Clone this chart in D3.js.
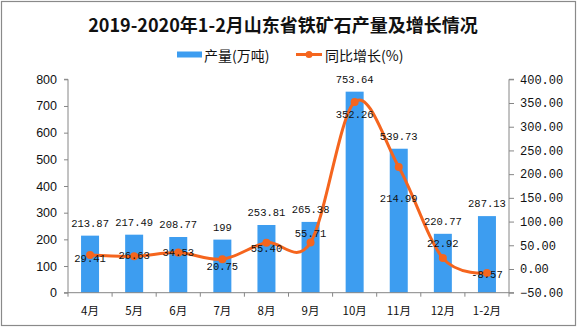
<!DOCTYPE html>
<html>
<head>
<meta charset="utf-8">
<script src="https://cdn.jsdelivr.net/npm/d3@7"></script>
<style>
  html, body { margin: 0; padding: 0; background: #fff; }
  svg { display: block; }
</style>
</head>
<body>
<svg id="chart" width="577" height="327"></svg>
<script>
const title = "2019-2020年1-2月山东省铁矿石产量及增长情况";
const categories = ["4月", "5月", "6月", "7月", "8月", "9月", "10月", "11月", "12月", "1-2月"];
const output = [213.87, 217.49, 208.77, 199, 253.81, 265.38, 753.64, 539.73, 220.77, 287.13];
const outputLabels = ["213.87", "217.49", "208.77", "199", "253.81", "265.38", "753.64", "539.73", "220.77", "287.13"];
const growth = [29.41, 26.63, 34.53, 20.75, 55.40, 55.71, 352.26, 214.99, 22.92, -8.57];
const growthLabels = ["29.41", "26.63", "34.53", "20.75", "55.40", "55.71", "352.26", "214.99", "22.92", "-8.57"];
const leftTicks = [0, 100, 200, 300, 400, 500, 600, 700, 800];
const rightTicks = [-50, 0, 50, 100, 150, 200, 250, 300, 350, 400];
const seriesNames = ["产量(万吨)", "同比增长(%)"];
// vertical offset of each growth label relative to its point (px)
const growthLabelShift = [4, 0, 0, 8, 6, -9, 13, 32, -14, 2];

(function () {
const barColor = "#3d9df0";
const lineColor = "#f5651e";
const axisColor = "#868686";

const svg = d3.select("#chart");

// frame
svg.append("rect").attr("x", 1.5).attr("y", 1.5).attr("width", 574).attr("height", 324)
  .attr("fill", "none").attr("stroke", "#8a8a8a").attr("stroke-width", 1.2);

const pLeft = 68, pRight = 509, pTop = 79.3, pBottom = 292.7;

const x = d3.scaleBand().domain(categories).range([pLeft, pRight]).paddingInner(0).paddingOuter(0);
const yL = d3.scaleLinear().domain([0, 800]).range([pBottom, pTop]);
const yR = d3.scaleLinear().domain([-50, 400]).range([pBottom, pTop]);
const cx = i => x(categories[i]) + x.bandwidth() / 2;

// title
svg.append("text").attr("x", 283).attr("y", 24).attr("text-anchor", "middle")
  .attr("dominant-baseline", "central")
  .style("font-family", "'Noto Sans CJK SC', sans-serif").style("font-weight", "bold")
  .style("font-size", "18px").attr("fill", "#111").text(title);

// legend
const lg = svg.append("g").style("font-family", "'Noto Sans CJK SC', sans-serif").style("font-size", "14px");
lg.append("rect").attr("x", 177).attr("y", 51.5).attr("width", 25).attr("height", 6).attr("fill", barColor);
lg.append("text").attr("x", 204).attr("y", 54.5).attr("dominant-baseline", "central").attr("fill", "#111").text(seriesNames[0]);
lg.append("line").attr("x1", 296).attr("x2", 322).attr("y1", 54.5).attr("y2", 54.5)
  .attr("stroke", lineColor).attr("stroke-width", 3);
lg.append("circle").attr("cx", 309).attr("cy", 54.5).attr("r", 3.5).attr("fill", lineColor);
lg.append("text").attr("x", 325).attr("y", 54.5).attr("dominant-baseline", "central").attr("fill", "#111").text(seriesNames[1]);

// bars
const barW = 18;
svg.append("g").selectAll("rect").data(output).join("rect")
  .attr("x", (d, i) => cx(i) - barW / 2)
  .attr("width", barW)
  .attr("y", d => yL(d))
  .attr("height", d => yL(0) - yL(d))
  .attr("fill", barColor);

// left axis
const axL = svg.append("g").attr("transform", `translate(${pLeft},0)`)
  .call(d3.axisLeft(yL).tickValues(leftTicks).tickSize(4).tickPadding(7).tickFormat(d3.format("d")));
axL.select(".domain").attr("stroke", axisColor).attr("d", `M-4,${pBottom}H0V${pTop}H-4`);
axL.selectAll(".tick line").attr("stroke", axisColor);
axL.selectAll(".tick text").style("font-family", "'Liberation Sans', Arial, sans-serif").style("font-size", "12.5px").attr("fill", "#111");

// right axis
const axR = svg.append("g").attr("transform", `translate(${pRight},0)`)
  .call(d3.axisRight(yR).tickValues(rightTicks).tickSize(5).tickPadding(6).tickFormat(d3.format(".2f")));
axR.select(".domain").attr("stroke", axisColor).attr("d", `M5,${pBottom}H0V${pTop}H5`);
axR.selectAll(".tick line").attr("stroke", axisColor);
axR.selectAll(".tick text").style("font-family", "'Liberation Mono', 'DejaVu Sans Mono', monospace").style("font-size", "12px").attr("fill", "#111");

// bottom axis
const axB = svg.append("g").attr("transform", `translate(0,${pBottom})`)
  .call(d3.axisBottom(x).tickSize(0).tickPadding(14));
axB.select(".domain").attr("stroke", axisColor).attr("d", `M${pLeft},0H${pRight}`);
axB.selectAll(".tick text").style("font-family", "'Noto Sans CJK SC', sans-serif").style("font-size", "11.5px").attr("fill", "#111");
const bounds = categories.map(c => x(c)).concat([pRight]);
axB.selectAll("line.sep").data(bounds).join("line").attr("class", "sep")
  .attr("x1", d => d).attr("x2", d => d).attr("y1", 0).attr("y2", 4).attr("stroke", axisColor);

// line
const line = d3.line()
  .x((d, i) => cx(i))
  .y(d => yR(d))
  .curve(d3.curveCardinal.tension(0));
svg.append("path").datum(growth).attr("d", line).attr("fill", "none")
  .attr("stroke", lineColor).attr("stroke-width", 3).attr("stroke-linejoin", "round");
svg.append("g").selectAll("circle").data(growth).join("circle")
  .attr("cx", (d, i) => cx(i))
  .attr("cy", d => yR(d)).attr("r", 4).attr("fill", lineColor);

// bar labels
const monoFont = "'Liberation Mono', 'DejaVu Sans Mono', monospace";
svg.append("g").selectAll("text").data(output).join("text")
  .attr("x", (d, i) => cx(i))
  .attr("y", d => yL(d) - 12)
  .attr("text-anchor", "middle").attr("dominant-baseline", "central")
  .style("font-family", monoFont).style("font-size", "10.5px").attr("fill", "#111")
  .text((d, i) => outputLabels[i]);

// growth labels
svg.append("g").selectAll("text").data(growth).join("text")
  .attr("x", (d, i) => cx(i))
  .attr("y", (d, i) => yR(d) + growthLabelShift[i])
  .attr("text-anchor", "middle").attr("dominant-baseline", "central")
  .style("font-family", monoFont).style("font-size", "10.5px").attr("fill", "#111")
  .text((d, i) => growthLabels[i]);
})();
</script>
</body>
</html>
